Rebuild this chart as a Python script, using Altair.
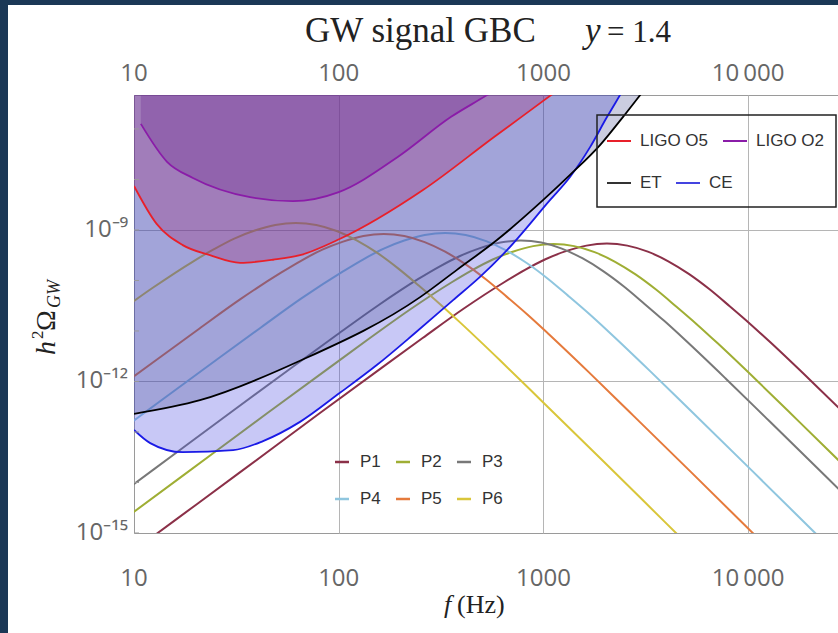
import altair as alt
import pandas as pd

# ---------------- benchmark spectra: frequency (Hz) and log10(h^2 Omega_GW) ----------------
P1_f = [8.1, 16.2, 32.4, 81.3, 162, 257, 407, 646, 813, 1023, 1288, 1622, 2042, 2570, 3236,
        4074, 5129, 6457, 8128, 10230, 12880, 20420, 32360]
P1_lo = [-15.62, -14.72, -13.82, -12.62, -11.73, -11.14, -10.56, -10.03, -9.79, -9.58, -9.42,
         -9.31, -9.27, -9.31, -9.43, -9.62, -9.87, -10.17, -10.51, -10.86, -11.23, -12.00, -12.79]

P2_f = [8.91, 17.8, 44.7, 89.1, 141, 224, 355, 447, 562, 708, 891, 1122, 1413, 1778, 2239,
        2818, 3548, 4467, 5623, 7079, 11220, 17780, 35480]
P2_lo = [-14.73, -13.83, -12.63, -11.74, -11.15, -10.57, -10.04, -9.80, -9.59, -9.43, -9.32,
         -9.28, -9.32, -9.44, -9.63, -9.88, -10.18, -10.52, -10.87, -11.24, -12.01, -12.80, -13.99]

P3_f = [6.16, 12.3, 30.9, 61.6, 97.7, 155, 245, 309, 389, 490, 616, 776, 977, 1230, 1549,
        1950, 2455, 3090, 3890, 4898, 7762, 12300, 24550, 48980]
P3_lo = [-14.66, -13.76, -12.56, -11.67, -11.08, -10.50, -9.97, -9.73, -9.52, -9.36, -9.25,
         -9.21, -9.25, -9.37, -9.56, -9.81, -10.11, -10.45, -10.80, -11.17, -11.94, -12.73,
         -13.92, -15.12]

P4_f = [5.25, 13.2, 26.3, 41.7, 66.0, 105, 132, 166, 209, 263, 331, 417, 525, 661, 832,
        1047, 1318, 1660, 2089, 3311, 5248, 10470, 20890, 41690]
P4_lo = [-13.61, -12.41, -11.52, -10.93, -10.35, -9.82, -9.58, -9.37, -9.21, -9.10, -9.06,
         -9.10, -9.22, -9.41, -9.66, -9.96, -10.30, -10.65, -11.02, -11.79, -12.58, -13.77,
         -14.97, -16.17]

P5_f = [6.61, 13.2, 20.9, 33.1, 52.5, 66.1, 83.2, 105, 132, 166, 209, 263, 331, 417, 525,
        661, 832, 1047, 1660, 2630, 5248, 10470, 20890]
P5_lo = [-12.43, -11.54, -10.95, -10.37, -9.84, -9.60, -9.39, -9.23, -9.12, -9.08, -9.12,
         -9.24, -9.43, -9.68, -9.98, -10.32, -10.67, -11.04, -11.81, -12.60, -13.79, -14.99,
         -16.19]

P6_f = [7.77, 12.3, 19.5, 24.6, 30.9, 38.9, 49.0, 61.7, 77.7, 97.8, 123, 155, 195, 246, 309,
        389, 617, 978, 1951, 3893, 7768]
P6_lo = [-10.73, -10.15, -9.62, -9.38, -9.17, -9.01, -8.90, -8.86, -8.90, -9.02, -9.21, -9.46,
         -9.76, -10.10, -10.45, -10.82, -11.59, -12.38, -13.57, -14.77, -15.97]

SERIES = ["P1", "P2", "P3", "P4", "P5", "P6"]
SERIES_COLORS = ["#8b3048", "#9fae34", "#787878", "#8fc6df", "#e57a3c", "#d9c63a"]

# ---------------- detector sensitivity curves ----------------
O2_f = [10.8, 14.5, 19.4, 36.9, 59.8, 100, 195, 354, 530, 710]
O2_lo = [-6.90, -7.65, -7.97, -8.35, -8.43, -8.25, -7.55, -6.76, -6.33, -6.00]

O5_f = [10, 12.9, 17.3, 23.5, 33, 47.8, 64.7, 101, 258, 574, 1090, 1500]
O5_lo = [-8.13, -8.88, -9.30, -9.50, -9.65, -9.59, -9.50, -9.18, -8.21, -7.16, -6.33, -5.91]

ET_f = [10, 21, 64.7, 250, 378, 593, 995, 1349, 1890, 2450, 2965, 3550]
ET_lo = [-12.64, -12.37, -11.59, -10.33, -9.79, -9.20, -8.41, -7.91, -7.32, -6.76, -6.33, -5.92]

CE_f = [10, 12.0, 17.3, 30.5, 42.7, 64.7, 101, 154, 236, 362, 490, 664, 1076, 1349, 1690,
        2047, 2367, 2700]
CE_lo = [-12.96, -13.22, -13.40, -13.36, -13.18, -12.80, -12.23, -11.67, -11.04, -10.39,
         -9.93, -9.40, -8.41, -7.95, -7.36, -6.76, -6.33, -5.94]

# ---------------- axis ticks ----------------
X_TICKS = [10, 100, 1000, 10000]
X_TICK_TEXT = ["10", "100", "1000", "10\u2009000"]
Y_TICKS = [1e-15, 1e-12, 1e-9]
Y_TICK_TEXT = ["10\u207b\u00b9\u2075", "10\u207b\u00b9\u00b2", "10\u207b\u2079"]
Y_MINOR = [1e-15, 1e-14, 1e-13, 1e-12, 1e-11, 1e-10, 1e-9, 1e-8, 1e-7]

W, H = 704, 438
Y_MIN, Y_MAX = 1e-15, 4.7e-7
xscale = alt.Scale(type="log", domain=[10, 27480])
yscale = alt.Scale(type="log", domain=[Y_MIN, Y_MAX])
x_axis = alt.Axis(values=[100, 1000, 10000], grid=True, labels=False, ticks=False,
                  domain=False, title=None, gridColor="#b5b5b5", gridWidth=1)
y_axis = alt.Axis(values=[1e-12, 1e-9], grid=True, labels=False, ticks=False,
                  domain=False, title=None, gridColor="#b5b5b5", gridWidth=1)


def X(field="f"):
    return alt.X(f"{field}:Q", scale=xscale, axis=x_axis)


def Y(field="omega"):
    return alt.Y(f"{field}:Q", scale=yscale, axis=y_axis)


def curve_df(fs, los):
    return pd.DataFrame({"f": fs, "omega": [10.0 ** v for v in los], "top": Y_MAX})


rows = []
for name, fs, los in zip(SERIES,
                         [P1_f, P2_f, P3_f, P4_f, P5_f, P6_f],
                         [P1_lo, P2_lo, P3_lo, P4_lo, P5_lo, P6_lo]):
    for f, v in zip(fs, los):
        rows.append({"series": name, "f": f, "omega": 10.0 ** v})
spectra = pd.DataFrame(rows)

spectra_lines = alt.Chart(spectra).mark_line(
    interpolate="monotone", clip=True, strokeWidth=2
).encode(
    x=X(), y=Y(),
    color=alt.Color("series:N", scale=alt.Scale(domain=SERIES, range=SERIES_COLORS), legend=None),
    detail="series:N",
)

detectors = [
    ("CE", CE_f, CE_lo, "#1a1ae6", "#4848e0", 0.30),
    ("ET", ET_f, ET_lo, "#000000", "#313783", 0.25),
    ("LIGO O5", O5_f, O5_lo, "#e8202a", "#a02473", 0.30),
    ("LIGO O2", O2_f, O2_lo, "#8a1ca8", "#733594", 0.35),
]

fills = []
edges = []
for name, fs, los, line_col, fill_col, alpha in detectors:
    d = curve_df(fs, los)
    fills.append(
        alt.Chart(d).mark_area(interpolate="monotone", clip=True, color=fill_col,
                               fillOpacity=alpha)
        .encode(x=X(), y=Y(), y2="top:Q")
    )
    edges.append(
        alt.Chart(d).mark_line(interpolate="monotone", clip=True, color=line_col, strokeWidth=1.8)
        .encode(x=X(), y=Y())
    )

one = pd.DataFrame({"k": [0]})

# inward ticks on the left frame
minor_ticks = alt.Chart(pd.DataFrame({"omega": Y_MINOR})).mark_rule(
    color="#999999", strokeWidth=1
).encode(y=Y(), x=alt.value(0), x2=alt.value(5))

# tick labels
xlab = pd.DataFrame({"f": X_TICKS, "label": X_TICK_TEXT})
top_labels = alt.Chart(xlab).mark_text(
    font="Open Sans", fontSize=24, color="#666666", baseline="alphabetic"
).encode(x=X(), y=alt.value(-14), text="label:N")
bottom_labels = alt.Chart(xlab).mark_text(
    font="Open Sans", fontSize=24, color="#666666", baseline="alphabetic"
).encode(x=X(), y=alt.value(H + 53), text="label:N")

ylab = pd.DataFrame({"omega": Y_TICKS, "label": Y_TICK_TEXT})
left_labels = alt.Chart(ylab).mark_text(
    font="Open Sans", fontSize=24, color="#666666", align="right", baseline="middle"
).encode(y=Y(), x=alt.value(-6), text="label:N")


def label(text, x, y, size, font="Liberation Serif", style="normal", color="#222222",
          align="left", baseline="alphabetic", angle=0):
    return alt.Chart(one).mark_text(
        text=text, font=font, fontSize=size, fontStyle=style, color=color,
        align=align, baseline=baseline, angle=angle
    ).encode(x=alt.value(x), y=alt.value(y))


# plot title and axis titles
title_parts = [
    label("GW signal GBC", 171, -53, 35),
    label("y", 451, -53, 35, style="italic"),
    label("= 1.4", 473, -53, 31),
]
xtitle_parts = [
    label("f", 310, 518, 26, style="italic"),
    label("(Hz)", 323, 518, 26),
]
ytitle_parts = [
    label("h", -79, 260, 28, style="italic", angle=270),
    label("2", -91, 244, 17, angle=270),
    label("\u03a9", -79, 236, 28, angle=270),
    label("GW", -74, 213, 18, style="italic", angle=270),
]

# legend for detector curves (boxed)
legend_box = alt.Chart(one).mark_rect(
    filled=False, stroke="#222222", strokeWidth=1.5
).encode(x=alt.value(463), x2=alt.value(702), y=alt.value(20), y2=alt.value(112))

det_legend = [
    ("LIGO O5", "#e8202a", 473, 46),
    ("LIGO O2", "#8a1ca8", 589, 46),
    ("ET", "#333333", 473, 88),
    ("CE", "#4444e0", 542, 88),
]
legend_marks = [legend_box]
for text, col, x0, y0 in det_legend:
    legend_marks.append(
        alt.Chart(one).mark_rule(color=col, strokeWidth=2)
        .encode(x=alt.value(x0), x2=alt.value(x0 + 24), y=alt.value(y0))
    )
    legend_marks.append(label(text, x0 + 33, y0, 17, font="Liberation Sans",
                              color="#333333", baseline="middle"))

# legend for the benchmark spectra (3 columns x 2 rows)
for i, (name, col) in enumerate(zip(SERIES, SERIES_COLORS)):
    c, r = i % 3, i // 3
    x0 = 201 + 61 * c
    y0 = 367 + 37 * r
    legend_marks.append(
        alt.Chart(one).mark_rule(color=col, strokeWidth=2.5)
        .encode(x=alt.value(x0), x2=alt.value(x0 + 14), y=alt.value(y0))
    )
    legend_marks.append(label(name, x0 + 25, y0, 17, font="Liberation Sans",
                              color="#333333", baseline="middle"))

# dark page edge on the left and top
edge_marks = [
    alt.Chart(one).mark_rect(color="#1b3856").encode(
        x=alt.value(-134), x2=alt.value(-126), y=alt.value(-95), y2=alt.value(H + 100)),
    alt.Chart(one).mark_rect(color="#1b3856").encode(
        x=alt.value(-134), x2=alt.value(W), y=alt.value(-95), y2=alt.value(-90)),
]

chart = alt.layer(
    spectra_lines, *fills, *edges, minor_ticks,
    top_labels, bottom_labels, left_labels,
    *title_parts, *xtitle_parts, *ytitle_parts,
    *legend_marks, *edge_marks,
).properties(
    width=W, height=H, background="white",
    padding={"left": 134, "top": 95, "right": 0, "bottom": 100},
    autosize=alt.AutoSizeParams(type="none"),
).configure_view(stroke="#9a9a9a", strokeWidth=1)

chart.save("out.html", embed_options={"renderer": "svg", "actions": False})
